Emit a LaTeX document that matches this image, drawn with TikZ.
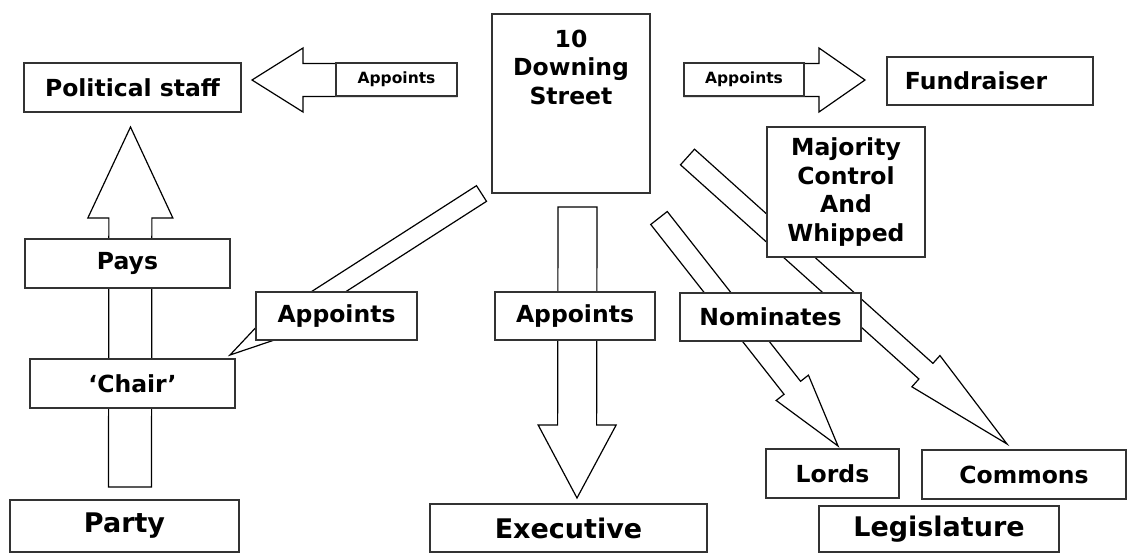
\documentclass[tikz,border=0pt]{standalone}
\usepackage{fontspec}
\setmainfont{DejaVu Sans}
\usetikzlibrary{calc}
\tikzset{
  box/.style={draw=black!80, fill=white, line width=1.2pt, inner sep=0pt,
    font=\bfseries\fontsize{23.5pt}{28.5pt}\selectfont, align=center},
  smalltxt/.style={font=\bfseries\fontsize{15.5pt}{18pt}\selectfont},
  bigtxt/.style={font=\bfseries\fontsize{27pt}{32pt}\selectfont},
  plaintxt/.style={inner sep=0pt, align=center, font=\bfseries\fontsize{23.5pt}{28.5pt}\selectfont},
  barrow/.style={draw=black, fill=white, line width=1.2pt, line join=miter},
}
% #1 id, #2 start, #3 tip, #4 shaft half width, #5 head half width, #6 head length
\newcommand\blockarrow[6]{%
  \coordinate (#1b) at ($(#3)!#6!(#2)$);
  \draw[barrow] ($(#2)!#4!90:(#3)$) -- ($(#1b)!#4!90:(#3)$) -- ($(#1b)!#5!90:(#3)$)
    -- (#3) -- ($(#1b)!#5!-90:(#3)$) -- ($(#1b)!#4!-90:(#3)$) -- ($(#2)!#4!-90:(#3)$) -- cycle;
}
\begin{document}
\begin{tikzpicture}[x=1pt,y=-1pt]
\fill[white] (0,0) rectangle (1128,554);
\useasboundingbox (0,0) rectangle (1128,554);

% arrow end points
\coordinate (lA) at (457,80);      \coordinate (lT) at (252,80);
\coordinate (rA) at (684,80);      \coordinate (rT) at (865,80);
\coordinate (uA) at (130,487);     \coordinate (uT) at (130.5,127);
\coordinate (dA) at (577.5,207);   \coordinate (dT) at (577,498);
\coordinate (cA) at (481.5,193.5); \coordinate (cT) at (230,355);
\coordinate (loA) at (659,218);    \coordinate (loT) at (838,446);
\coordinate (coA) at (687.5,157);  \coordinate (coT) at (1007,444);

% block arrows
\blockarrow{la}{lA}{lT}{16.5pt}{32pt}{51pt}
\blockarrow{ra}{rA}{rT}{16.5pt}{32pt}{46pt}
\blockarrow{ua}{uA}{uT}{21.5pt}{42.5pt}{91pt}
\blockarrow{da}{dA}{dT}{19.5pt}{39pt}{73pt}
\blockarrow{ca}{cA}{cT}{9.3pt}{20pt}{80pt}
\blockarrow{lo}{loA}{loT}{10.5pt}{20.5pt}{74pt}
\blockarrow{co}{coA}{coT}{10.5pt}{21pt}{109pt}

% boxes
\node[box, minimum width=217pt, minimum height=49pt] (pol) at (132.5,87.5) {Political staff};
\node[box, smalltxt, minimum width=121pt, minimum height=33pt] (lapp) at (396.5,79.5) {Appoints};
\node[box, minimum width=158pt, minimum height=179pt] (downing) at (571,103.5) {};
\node[plaintxt] (downingtxt) at (571,67) {10\\Downing\\Street};
\node[box, smalltxt, minimum width=120pt, minimum height=33pt] (rapp) at (744,79.5) {Appoints};
\node[box, minimum width=206pt, minimum height=48pt] (fund) at (990,81) {Fundraiser\hspace*{28pt}};
\node[box, minimum width=158pt, minimum height=130pt] (maj) at (846,192) {Majority\\Control\\And\\Whipped};
\node[box, minimum width=205pt, minimum height=49pt] (pays) at (127.5,263.5) {Pays};
\node[box, minimum width=205pt, minimum height=49pt] (chair) at (132.5,383.5) {‘Chair’};
\node[box, bigtxt, minimum width=229pt, minimum height=52pt] (party) at (124.5,526) {Party};
\node[box, minimum width=161pt, minimum height=48pt] (bapp) at (336.5,316) {Appoints};
\node[box, minimum width=160pt, minimum height=48pt] (mapp) at (575,316) {Appoints};
\node[box, minimum width=181pt, minimum height=48pt] (nom) at (770.5,317) {Nominates};
\node[box, minimum width=133pt, minimum height=49pt] (lords) at (832.5,473.5) {Lords};
\node[box, minimum width=204pt, minimum height=49pt] (commons) at (1024,474.5) {Commons};
\node[box, bigtxt, minimum width=277pt, minimum height=48pt] (exec) at (568.5,528) {Executive};
\node[box, bigtxt, minimum width=240pt, minimum height=46pt] (legis) at (939,529) {Legislature};
\end{tikzpicture}
\end{document}
